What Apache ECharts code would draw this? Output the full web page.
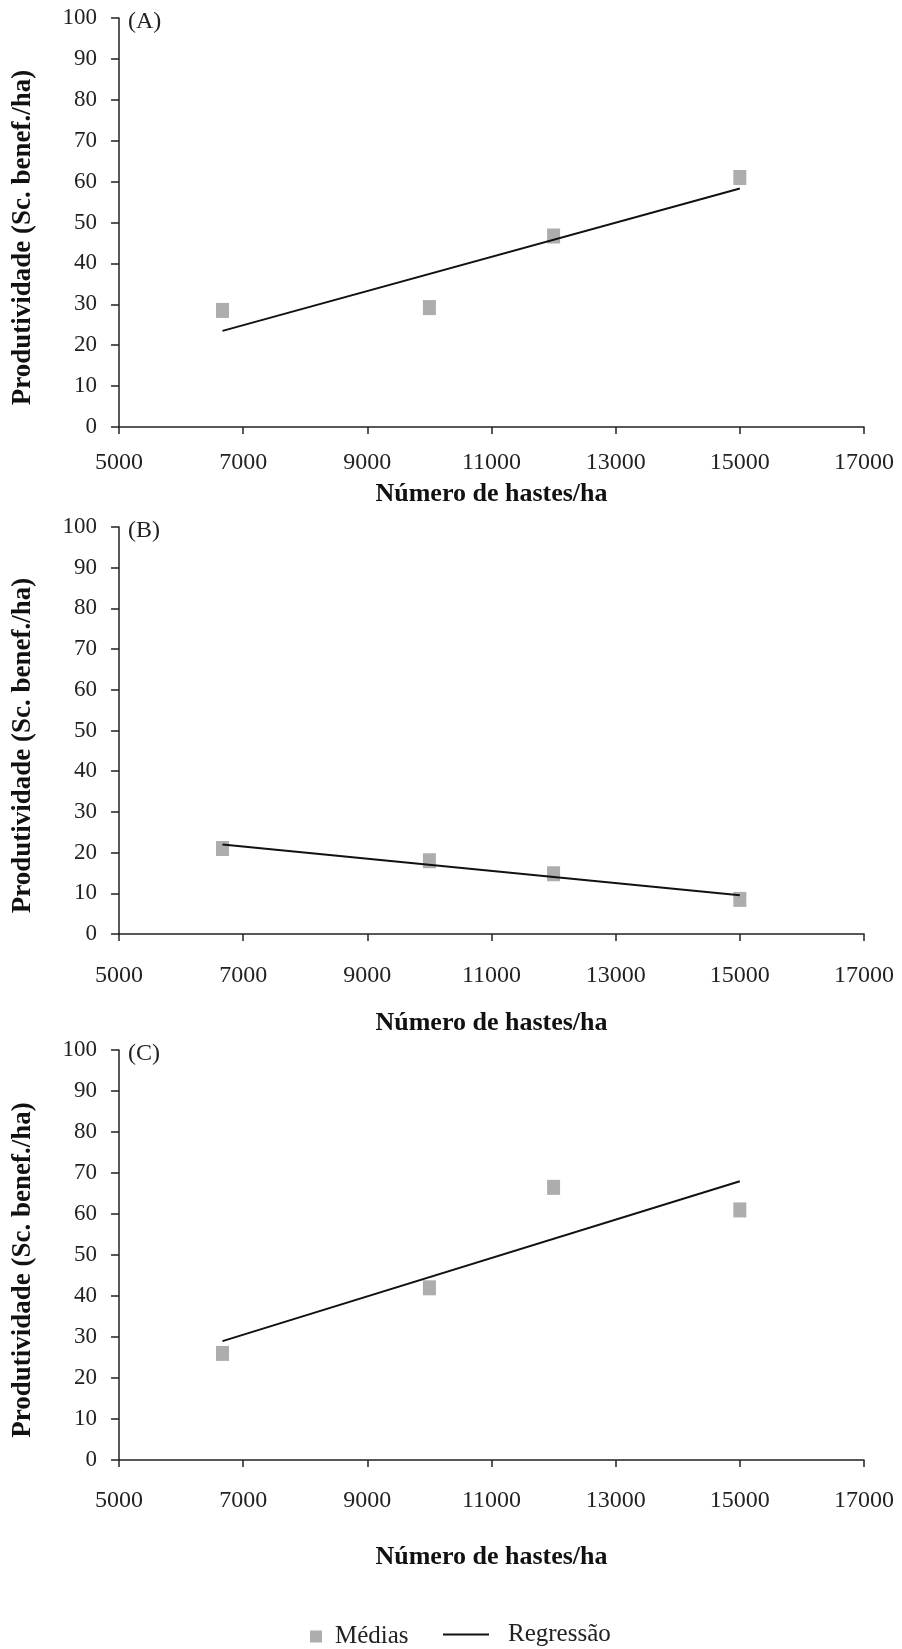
<!DOCTYPE html>
<html>
<head>
<meta charset="utf-8">
<script src="https://cdn.jsdelivr.net/npm/echarts@6/dist/echarts.min.js"></script>
<style>
  html, body { margin: 0; padding: 0; background: #fff; }
  #chart { width: 902px; height: 1649px; }
</style>
</head>
<body>
<div id="chart"></div>
<script>
// stems per hectare (x) and mean yield per panel
const hastes = [6667, 10000, 12000, 15000];
const mediasA = [28.5, 29.2, 46.7, 61.0];
const mediasB = [21.0, 18.0, 14.8, 8.5];
const mediasC = [26.0, 42.0, 66.5, 61.0];

// regression line end points
const regX = [6667, 15000];
const regA = [23.5, 58.3];
const regB = [22.0, 9.5];
const regC = [29.0, 68.0];

const panelLabels = ['(A)', '(B)', '(C)'];
const xName = 'Número de hastes/ha';
const yName = 'Produtividade (Sc. benef./ha)';

const font = 'Liberation Serif';
// the three panels were pasted separately, so spacing differs a bit
const tops = [18, 527, 1050];
const heights = [409, 407, 410];
const labelMargins = [24, 30, 29];
const nameGaps = [54, 76, 84];

const chart = echarts.init(document.getElementById('chart'), null, { renderer: 'canvas' });

const pairs = (xs, ys) => xs.map((x, i) => [x, ys[i]]);
const medias = [mediasA, mediasB, mediasC];
const regs = [regA, regB, regC];

const grids = [], xAxes = [], yAxes = [], series = [], titles = [];
for (let i = 0; i < 3; i++) {
  grids.push({ left: 119, right: 38, top: tops[i], height: heights[i] });
  xAxes.push({
    type: 'value', gridIndex: i, min: 5000, max: 17000, interval: 2000,
    name: xName, nameLocation: 'middle', nameGap: nameGaps[i],
    nameTextStyle: { fontFamily: font, fontWeight: 'bold', fontSize: 26, color: '#111' },
    axisLine: { lineStyle: { color: '#222', width: 1.5 } },
    axisTick: { show: true, inside: false, length: 7, lineStyle: { color: '#222', width: 1.5 } },
    axisLabel: { fontFamily: font, fontSize: 24, color: '#222', margin: labelMargins[i], formatter: v => String(v) },
    splitLine: { show: false }
  });
  yAxes.push({
    type: 'value', gridIndex: i, min: 0, max: 100, interval: 10,
    name: yName, nameLocation: 'middle', nameGap: 82, nameRotate: 90,
    nameTextStyle: { fontFamily: font, fontWeight: 'bold', fontSize: 27, color: '#111', padding: [0, 30, 0, 0] },
    axisLine: { show: true, lineStyle: { color: '#222', width: 1.5 } },
    axisTick: { show: true, inside: false, length: 8, lineStyle: { color: '#222', width: 1.5 } },
    axisLabel: { fontFamily: font, fontSize: 23, color: '#222', margin: 22 },
    splitLine: { show: false }
  });
  titles.push({
    text: panelLabels[i], left: 123, top: tops[i] - 13,
    textStyle: { fontFamily: font, fontWeight: 'normal', fontSize: 24, color: '#222' }
  });
  series.push({
    name: 'Médias', type: 'scatter', xAxisIndex: i, yAxisIndex: i,
    symbol: 'rect', symbolSize: [13, 15],
    itemStyle: { color: '#999999' },
    data: pairs(hastes, medias[i])
  });
  series.push({
    name: 'Regressão', type: 'line', xAxisIndex: i, yAxisIndex: i,
    symbol: 'none', lineStyle: { color: '#111', width: 2 },
    itemStyle: { color: '#111' },
    data: pairs(regX, regs[i])
  });
}

chart.setOption({
  animation: false,
  backgroundColor: '#fff',
  title: titles,
  grid: grids,
  xAxis: xAxes,
  yAxis: yAxes,
  legend: [{
    data: [{ name: 'Médias', icon: 'rect' }],
    left: 305, top: 1619, itemWidth: 12, itemHeight: 12, itemGap: 10,
    textStyle: { fontFamily: font, fontSize: 25, color: '#222', padding: [0, 0, 0, 8] }
  }, {
    data: [{ name: 'Regressão', icon: 'rect', itemStyle: { color: '#111' } }],
    left: 438, top: 1617, itemWidth: 46, itemHeight: 2, itemGap: 10,
    textStyle: { fontFamily: font, fontSize: 25, color: '#222', padding: [0, 0, 0, 14] }
  }],
  series: series
});
</script>
</body>
</html>
